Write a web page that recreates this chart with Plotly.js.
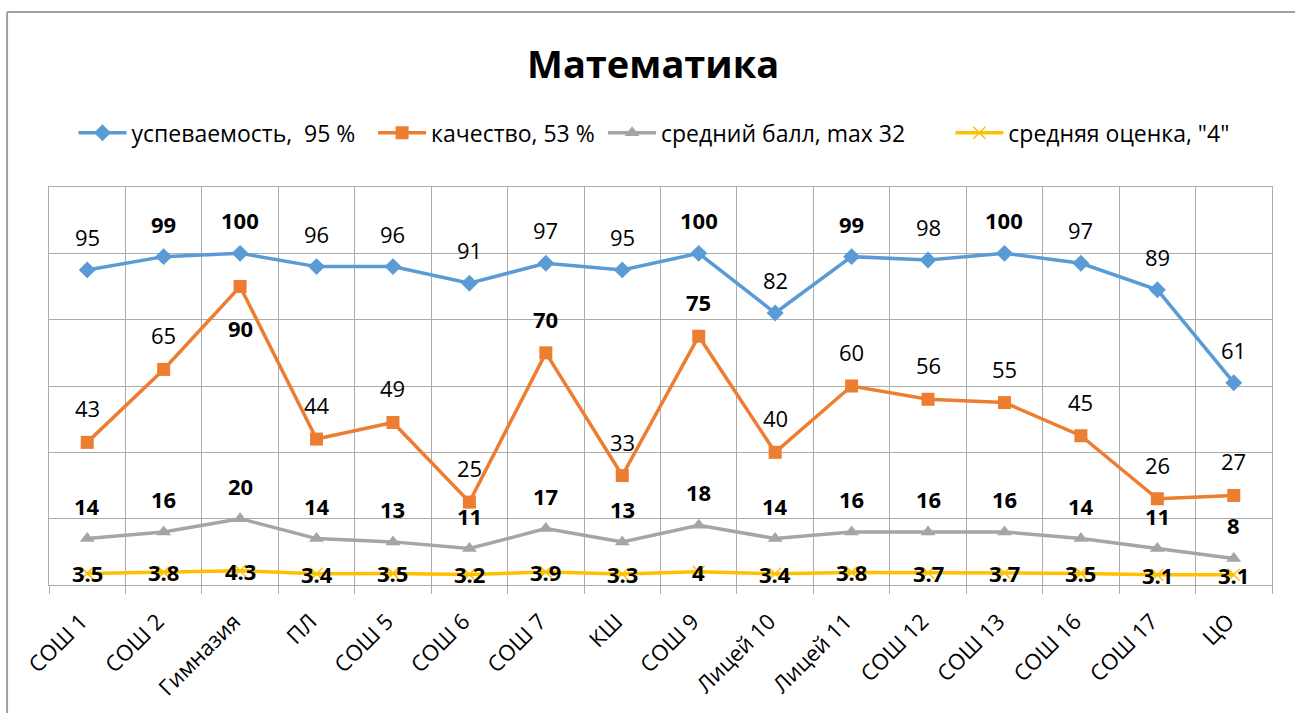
<!DOCTYPE html>
<html>
<head>
<meta charset="utf-8">
<script src="https://cdn.plot.ly/plotly-3.0.1.min.js"></script>
<style>html,body{margin:0;padding:0;background:#fff;}#chart{width:1295px;height:713px;}</style>
</head>
<body>
<div id="chart"></div>
<script>
const categories = ["СОШ 1","СОШ 2","Гимназия","ПЛ","СОШ 5","СОШ 6","СОШ 7","КШ","СОШ 9","Лицей 10","Лицей 11","СОШ 12","СОШ 13","СОШ 16","СОШ 17","ЦО"];
const uspevaemost = [95,99,100,96,96,91,97,95,100,82,99,98,100,97,89,61];
const kachestvo = [43,65,90,44,49,25,70,33,75,40,60,56,55,45,26,27];
const sredniyBall = [14,16,20,14,13,11,17,13,18,14,16,16,16,14,11,8];
const srednyayaOcenka = [3.5,3.8,4.3,3.4,3.5,3.2,3.9,3.3,4,3.4,3.8,3.7,3.7,3.5,3.1,3.1];
const seriesNames = ["успеваемость,\u00a0 95 %","качество, 53 %","средний балл, max 32","средняя оценка, \"4\""];
const boldUsp = [false,true,true,false,false,false,false,false,true,false,true,false,true,false,false,false];
const boldKach = [false,false,true,false,false,false,true,false,true,false,false,false,false,false,false,false];

const FONT = "Open Sans, Noto Sans, sans-serif";
const colors = ["#5B9BD5","#ED7D31","#A5A5A5","#FFC000"];
const symbols = ["diamond","square","triangle-up","x-thin"];
const legendIds = ["legend","legend2","legend3","legend4"];
const legendX = [0.02, 0.265, 0.453, 0.737];
const allSeries = [uspevaemost, kachestvo, sredniyBall, srednyayaOcenka];

const traces = allSeries.map((vals, i) => ({
  type: "scatter",
  mode: "lines+markers",
  name: seriesNames[i],
  legend: legendIds[i],
  x: categories,
  y: vals,
  line: {color: colors[i], width: 3.5},
  marker: {symbol: symbols[i], size: i === 3 ? 12 : 13, color: colors[i],
           line: {color: colors[i], width: i === 3 ? 1.5 : 0}},
  cliponaxis: false,
  hoverinfo: "skip"
}));

const annotations = [];
function addLabels(vals, boldArr, shiftFn) {
  vals.forEach((v, k) => {
    const b = boldArr === true ? true : boldArr[k];
    annotations.push({
      x: categories[k], y: v, xref: "x", yref: "y",
      text: b ? "<b>" + String(v) + "</b>" : String(v),
      showarrow: false, yshift: shiftFn(k), yanchor: "middle", xanchor: "center",
      font: {family: FONT, size: 22, color: "#000"}
    });
  });
}
addLabels(uspevaemost, boldUsp, () => 33);
// the Гимназия quality label sits below its marker to avoid the blue line
addLabels(kachestvo, boldKach, k => (categories[k] === "Гимназия" ? -41 : 34));
addLabels(sredniyBall, true, () => 33);
addLabels(srednyayaOcenka, true, () => 0);

const legendBase = {orientation: "h", y: 1.136, yanchor: "middle", xanchor: "left", itemwidth: 48,
                    font: {family: FONT, size: 23, color: "#000"}, bgcolor: "rgba(0,0,0,0)"};

const layout = {
  width: 1295, height: 713,
  margin: {l: 49, r: 23, t: 187, b: 128},
  paper_bgcolor: "#fff", plot_bgcolor: "#fff",
  font: {family: FONT, color: "#000"},
  title: {text: "<b>Математика</b>", font: {family: FONT, size: 38, color: "#000"},
          x: 0.494, xref: "paper", xanchor: "center", y: 0.909, yref: "container", yanchor: "middle"},
  showlegend: true,
  legend: Object.assign({}, legendBase, {x: legendX[0]}),
  legend2: Object.assign({}, legendBase, {x: legendX[1]}),
  legend3: Object.assign({}, legendBase, {x: legendX[2]}),
  legend4: Object.assign({}, legendBase, {x: legendX[3]}),
  xaxis: {type: "category", tickson: "boundaries", showgrid: true, gridcolor: "#ABABAB", gridwidth: 1,
          ticks: "outside", ticklen: 8, tickcolor: "#ABABAB", tickangle: -45,
          tickfont: {family: FONT, size: 22, color: "#000"}, ticklabelstandoff: 14, ticklabelshift: -6,
          showline: true, linecolor: "#ABABAB", linewidth: 1, mirror: true,
          range: [-0.5, 15.5], fixedrange: true},
  yaxis: {range: [0, 120], dtick: 20, showgrid: true, gridcolor: "#ABABAB", gridwidth: 1,
          showticklabels: false, ticks: "", zeroline: false,
          showline: true, linecolor: "#ABABAB", linewidth: 1, mirror: true, fixedrange: true},
  annotations: annotations,
  shapes: [
    {type: "line", xref: "paper", yref: "paper", x0: -0.0343, x1: -0.0343, y0: 1.4397, y1: -0.4,
     line: {color: "#A0A0A0", width: 2}},
    {type: "line", xref: "paper", yref: "paper", x0: -0.0343, x1: 1.05, y0: 1.4397, y1: 1.4397,
     line: {color: "#A0A0A0", width: 2}}
  ]
};

Plotly.newPlot("chart", traces, layout, {displayModeBar: false, staticPlot: true});
</script>
</body>
</html>
